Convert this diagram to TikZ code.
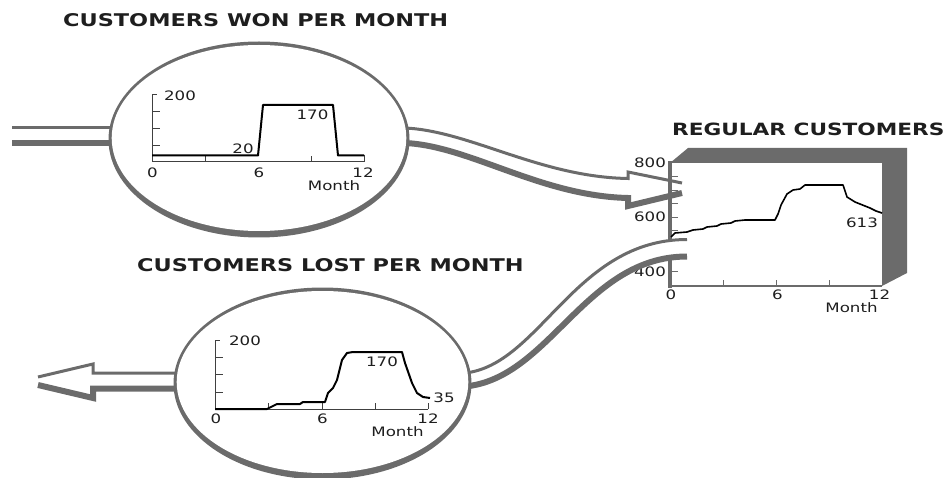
\documentclass[tikz,border=0pt]{standalone}
\usepackage{fontspec}
\newfontfamily\ttlfont{DejaVu Sans}[FakeStretch=1.28]
\newfontfamily\lblfont{DejaVu Sans}[FakeStretch=1.28]
\definecolor{pipe}{HTML}{6B6B6B}
\definecolor{ink}{HTML}{1E1E1E}
\begin{document}
\begin{tikzpicture}[x=1pt,y=-1pt,
  thinedge/.style={draw=pipe, line width=3pt},
  thickedge/.style={draw=pipe, line width=6pt},
  lbl/.style={font=\lblfont\fontsize{13}{13}\selectfont, text=ink, inner sep=0pt},
  ttl/.style={font=\ttlfont\bfseries\fontsize{17.5}{17.5}\selectfont, text=ink, inner sep=0pt, anchor=base west},
  axisln/.style={draw=ink!85, line width=1pt},
  tickln/.style={draw=pipe, line width=1pt},
  dataln/.style={draw=black, line width=2pt, line join=round},
  stockln/.style={draw=black, line width=1.6pt, line join=round}]
\useasboundingbox (0,0) rectangle (952,478);

% ---------- titles ----------
\node[ttl] (t1) at (63,26.5) {CUSTOMERS WON PER MONTH};
\node[ttl] (t2) at (137,271) {CUSTOMERS LOST PER MONTH};
\node[ttl, font=\ttlfont\bfseries\fontsize{16.9}{16.9}\selectfont] (t3) at (672,136) {REGULAR CUSTOMERS};

% ---------- stock box (shadow) ----------
\fill[pipe] (670,163) -- (688,148) -- (907,148) -- (907,273) -- (882,286) -- (882,163) -- cycle;

% ---------- inflow pipe at left ----------
\draw[thinedge] (12,128) -- (120,128);
\draw[thickedge] (12,143) -- (120,143);

% ---------- arrow from WON circle into stock ----------
\fill[white] (405,128) .. controls (470,131) and (540,177) .. (628,178.5) -- (628,172) -- (682,183)
  -- (682,193) -- (628,206) -- (628,198) .. controls (540,196) and (470,146) .. (405,143) -- cycle;
\draw[thinedge] (405,128) .. controls (470,131) and (540,177) .. (628,178.5) -- (628,172) -- (682,183);
\draw[thickedge] (405,143) .. controls (470,146) and (540,196) .. (628,198) -- (628,206) -- (682,193);

% ---------- stock axes ----------
\draw[pipe, line width=3.5pt] (670,161.5) -- (670,288);
\draw[pipe, line width=2.5pt] (668.5,286) -- (882,286);
\foreach \k in {1,...,8} \draw[tickln] (670,163+13.6*\k) -- (678,163+13.6*\k);
\foreach \m in {3,6,9} \draw[tickln] (670+17.67*\m,286) -- (670+17.67*\m,280);
\draw[stockln] (671,237) -- (675,233) -- (687,232) -- (693,230) -- (703,229) -- (707,227)
  -- (717,226) -- (721,224) -- (731,223) -- (735,221) -- (745,220) -- (775,220)
  -- (778,214) -- (781,205) -- (787,194) -- (793,190) -- (800,189) -- (805,185)
  -- (843,185) -- (847,197) -- (855,202) -- (870,208) -- (876,211) -- (882,213);
\node[lbl] (s800) at (650,163) {800};
\node[lbl] (s600) at (650,217) {600};
\node[lbl] (s400) at (650,272) {400};
\node[lbl] (s0) at (671,295) {0};
\node[lbl] (s6) at (777.5,295) {6};
\node[lbl] (s12) at (879.5,295) {12};
\node[lbl] (sm) at (851.5,307.5) {Month};
\node[lbl] (s613) at (862,223) {613};

% ---------- pipe from stock to LOST circle ----------
\fill[white] (465,373) .. controls (540,365) and (575,239.5) .. (687,239.5) -- (687,256.5)
  .. controls (585,256.5) and (550,378) .. (465,386) -- cycle;
\draw[thinedge] (465,373) .. controls (540,365) and (575,239.5) .. (687,239.5);
\draw[thickedge] (465,386.5) .. controls (550,378.5) and (585,256.5) .. (687,256.5);

% ---------- outflow arrow at bottom left ----------
\draw[thinedge] (185,373) -- (93,373) -- (93,364) -- (38,377);
\draw[thickedge] (185,388.5) -- (93,388.5) -- (93,398) -- (38,385);

% ---------- circles ----------
\fill[pipe] (259,139.5) ellipse [x radius=150.5pt, y radius=98pt];
\fill[white] (259,138) ellipse [x radius=147.3pt, y radius=93pt];
\fill[pipe] (322.5,383.5) ellipse [x radius=149pt, y radius=96pt];
\fill[white] (322.5,382) ellipse [x radius=145.8pt, y radius=91pt];

% ---------- WON chart ----------
\draw[axisln] (152,95) -- (152,162) -- (364,162) -- (364,155.5);
\draw[axisln] (152,95) -- (157,95);
\foreach \y in {111.75,128.5,145.25} \draw[axisln] (152,\y) -- (160,\y);
\foreach \x in {205,311} \draw[axisln] (\x,162) -- (\x,156);
\draw[dataln] (152,155.5) -- (258,155.5) -- (263,105) -- (333,105) -- (338,155.5) -- (364,155.5);
\node[lbl] (w200) at (180,95.5) {200};
\node[lbl] (w170) at (312.5,114.5) {170};
\node[lbl] (w20) at (243,149) {20};
\node[lbl] (w0) at (152.5,173) {0};
\node[lbl] (w6) at (259,173) {6};
\node[lbl] (w12) at (363,173) {12};
\node[lbl] (wm) at (334,185.5) {Month};

% ---------- LOST chart ----------
\draw[axisln] (215,340) -- (215,409) -- (428,409);
\draw[axisln] (215,340) -- (220,340);
\foreach \y in {357,374.5,392} \draw[axisln] (215,\y) -- (223,\y);
\foreach \x in {268,322,375,428} \draw[axisln] (\x,409) -- (\x,403);
\draw[dataln] (215,409) -- (267,409) -- (277,404) -- (300,404) -- (303,402) -- (325,402)
  -- (328,393) -- (333,388) -- (337,380) -- (342,360) -- (347,353) -- (353,352)
  -- (402,352) -- (405,363) -- (412,383) -- (417,393) -- (423,397) -- (430,398);
\node[lbl] (l200) at (245,341) {200};
\node[lbl] (l170) at (382,362) {170};
\node[lbl] (l35) at (444,398) {35};
\node[lbl] (l0) at (216,419) {0};
\node[lbl] (l6) at (322.5,419) {6};
\node[lbl] (l12) at (428,419) {12};
\node[lbl] (lm) at (397.5,432) {Month};
\end{tikzpicture}
\end{document}
